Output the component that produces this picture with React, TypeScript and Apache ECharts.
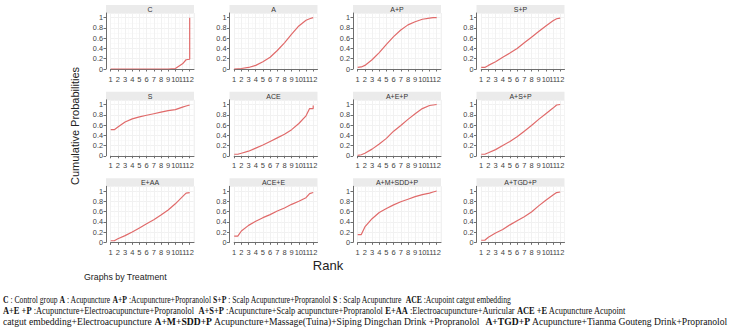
import React, { useEffect, useRef } from "react";
import * as echarts from "echarts";

// Rank positions shared by every panel (the last point repeats rank 12 so a
// curve can finish with a vertical step).
const RANKS = [1, 1.5, 2, 3, 4, 5, 6, 7, 8, 9, 10, 11, 11.5, 12, 12];

const TREATMENTS = [
  "C", "A", "A+P", "S+P",
  "S", "ACE", "A+E+P", "A+S+P",
  "E+AA", "ACE+E", "A+M+SDD+P", "A+TGD+P",
];

const C_VALUES = [0, 0, 0, 0, 0, 0, 0, 0, 0, 0, 0.01, 0.1, 0.18, 0.19, 1];
const A_VALUES = [0, 0.005, 0.01, 0.03, 0.07, 0.14, 0.23, 0.36, 0.51, 0.68, 0.84, 0.95, 0.98, 1, 1];
const AP_VALUES = [0.03, 0.04, 0.07, 0.18, 0.32, 0.48, 0.63, 0.76, 0.86, 0.92, 0.97, 0.99, 1, 1, 1];
const SP_VALUES = [0.03, 0.03, 0.07, 0.14, 0.23, 0.31, 0.4, 0.51, 0.62, 0.73, 0.84, 0.94, 0.98, 0.99, 0.99];
const S_VALUES = [0.51, 0.51, 0.56, 0.66, 0.72, 0.76, 0.79, 0.82, 0.85, 0.88, 0.9, 0.95, 0.97, 0.99, 0.99];
const ACE_VALUES = [0.03, 0.03, 0.05, 0.09, 0.15, 0.21, 0.28, 0.35, 0.42, 0.51, 0.63, 0.78, 0.92, 0.92, 0.98];
const AEP_VALUES = [0.01, 0.02, 0.05, 0.13, 0.23, 0.34, 0.48, 0.59, 0.71, 0.82, 0.92, 0.98, 0.99, 1, 1];
const ASP_VALUES = [0.03, 0.03, 0.06, 0.12, 0.2, 0.28, 0.37, 0.48, 0.59, 0.71, 0.82, 0.93, 0.99, 1, 1];
const EAA_VALUES = [0.03, 0.03, 0.07, 0.13, 0.2, 0.28, 0.36, 0.44, 0.53, 0.63, 0.75, 0.89, 0.96, 0.97, 0.97];
const ACEE_VALUES = [0.12, 0.12, 0.22, 0.33, 0.41, 0.48, 0.54, 0.61, 0.67, 0.74, 0.8, 0.87, 0.95, 0.97, 0.97];
const AMSDDP_VALUES = [0.15, 0.15, 0.3, 0.46, 0.58, 0.66, 0.73, 0.79, 0.84, 0.89, 0.93, 0.96, 0.98, 1, 1];
const ATGDP_VALUES = [0.04, 0.04, 0.1, 0.18, 0.25, 0.34, 0.42, 0.5, 0.59, 0.71, 0.82, 0.92, 0.97, 0.98, 0.98];

const SERIES_VALUES = [
  C_VALUES, A_VALUES, AP_VALUES, SP_VALUES,
  S_VALUES, ACE_VALUES, AEP_VALUES, ASP_VALUES,
  EAA_VALUES, ACEE_VALUES, AMSDDP_VALUES, ATGDP_VALUES,
];

const Y_TITLE = "Cumulative Probabilities";
const X_TITLE = "Rank";
const BY_NOTE = "Graphs by Treatment";

// Caption lines; segments flagged true are set in bold.
const CAPTION_LINES: [string, boolean][][] = [
  [
    ["C", true], [" : Control group ", false], ["A", true], [" : Acupuncture ", false],
    ["A+P", true], [" :Acupuncture+Propranolol ", false], ["S+P", true],
    [" : Scalp Acupuncture+Propranolol ", false], ["S", true], [" : Scalp Acupuncture  ", false],
    ["ACE", true], [" :Acupoint catgut embedding", false],
  ],
  [
    ["A+E +P", true], [" :Acupuncture+Electroacupuncture+Propranolol  ", false],
    ["A+S+P", true], [" :Acupuncture+Scalp acupuncture+Propranolol ", false],
    ["E+AA", true], [" :Electroacupuncture+Auricular ", false], ["ACE +E", true],
    [" Acupuncture Acupoint", false],
  ],
  [
    ["catgut embedding+Electroacupuncture ", false], ["A+M+SDD+P", true],
    [" Acupuncture+Massage(Tuina)+Siping Dingchan Drink +Propranolol  ", false],
    ["A+TGD+P", true], [" Acupuncture+Tianma Gouteng Drink+Propranolol", false],
  ],
];
// Width each caption line is set to, in pixels.
const CAPTION_WIDTHS = [508, 623, 725];
const CAPTION_Y = [300, 311, 321.5];
const CAPTION_SIZE = 9.6;

const SANS = "Liberation Sans, Arial, sans-serif";
const SERIF = "Liberation Serif, Times New Roman, serif";
const LINE_COLOR = "#e06a6a";
const AXIS_COLOR = "#6e6e6e";
const GRID_COLOR = "#f1f1f1";

// Panel layout
const COL_X = [106, 229.5, 353, 476.5];
const ROW_TOP = [17.7, 104.5, 191]; // pixel row of probability 1
const UNIT_X = 79 / 11; // px per rank
const UNIT_Y = 51.3; // px per unit probability
const PAD_L = 4.7;
const PAD_T = 4.7;
const PAD_B = 3;
const STRIP_W = 88;
const X_MAX = 12.6;
const Y_MAX = 1 + PAD_T / UNIT_Y;

function measureLine(segs: [string, boolean][]): number {
  const canvas = document.createElement("canvas");
  const ctx = canvas.getContext("2d");
  if (!ctx) return 700;
  let w = 0;
  segs.forEach(([t, b]) => {
    ctx.font = `${b ? "bold " : ""}${CAPTION_SIZE}px ${SERIF}`;
    w += ctx.measureText(t).width;
  });
  return w;
}

const intOnly = (v: number) => (Math.abs(v - Math.round(v)) < 1e-6 ? String(Math.round(v)) : "");
const probLabel = (v: number) => (v <= 1.0001 ? String(Math.round(v * 10) / 10) : "");

function buildOption() {
  const grids: any[] = [];
  const xAxes: any[] = [];
  const yAxes: any[] = [];
  const series: any[] = [];
  const graphics: any[] = [];

  TREATMENTS.forEach((name, i) => {
    const c = i % 4;
    const r = Math.floor(i / 4);
    const axisX = COL_X[c];
    const y1 = ROW_TOP[r];

    grids.push({
      left: axisX + PAD_L,
      top: y1 - PAD_T,
      width: UNIT_X * (X_MAX - 1),
      height: UNIT_Y * Y_MAX,
    });

    xAxes.push({
      type: "value",
      gridIndex: i,
      min: 1,
      max: X_MAX,
      interval: 1,
      offset: PAD_B,
      axisLine: { show: true, lineStyle: { color: AXIS_COLOR, width: 1 } },
      axisTick: { show: true, length: 2.5, lineStyle: { color: AXIS_COLOR } },
      axisLabel: {
        fontSize: 7.5,
        color: "#444",
        margin: 3,
        fontFamily: SANS,
        formatter: intOnly,
        showMinLabel: true,
        showMaxLabel: false,
      },
      splitLine: { show: true, lineStyle: { color: GRID_COLOR, width: 1 } },
      minorTick: { show: false, splitNumber: 2 },
      minorSplitLine: { show: true, lineStyle: { color: "#f7f7f7", width: 0.6 } },
    });

    yAxes.push({
      type: "value",
      gridIndex: i,
      min: 0,
      max: Y_MAX,
      interval: 0.2,
      offset: PAD_L,
      axisLine: { show: true, lineStyle: { color: AXIS_COLOR, width: 1 } },
      axisTick: { show: true, length: 2.5, lineStyle: { color: AXIS_COLOR } },
      axisLabel: {
        fontSize: 7.3,
        color: "#444",
        margin: 3,
        fontFamily: SANS,
        formatter: probLabel,
        showMaxLabel: false,
      },
      splitLine: { show: true, lineStyle: { color: GRID_COLOR, width: 1 } },
      minorTick: { show: false, splitNumber: 2 },
      minorSplitLine: { show: true, lineStyle: { color: "#f7f7f7", width: 0.6 } },
    });

    series.push({
      type: "line",
      name,
      xAxisIndex: i,
      yAxisIndex: i,
      data: RANKS.map((rk, k) => [rk, SERIES_VALUES[i][k]]),
      showSymbol: false,
      symbol: "none",
      lineStyle: { color: LINE_COLOR, width: 1.2 },
      itemStyle: { color: LINE_COLOR },
    });

    // facet strip with the treatment name
    graphics.push({
      type: "rect",
      shape: { x: axisX, y: y1 - 12.7, width: STRIP_W, height: 8.5 },
      style: { fill: "#ebebeb" },
      silent: true,
    });
    graphics.push({
      type: "text",
      x: axisX + STRIP_W / 2,
      y: y1 - 8.4,
      style: {
        text: name,
        fill: "#333",
        font: `7px ${SANS}`,
        align: "center",
        verticalAlign: "middle",
      },
      silent: true,
    });
  });

  graphics.push({
    type: "text",
    x: 75,
    y: 126,
    rotation: Math.PI / 2,
    style: {
      text: Y_TITLE,
      fill: "#222",
      font: `11px ${SANS}`,
      align: "center",
      verticalAlign: "middle",
    },
  });
  graphics.push({
    type: "text",
    x: 328,
    y: 265,
    style: { text: X_TITLE, fill: "#222", font: `13px ${SANS}`, align: "center", verticalAlign: "middle" },
  });
  graphics.push({
    type: "text",
    x: 84,
    y: 277,
    style: { text: BY_NOTE, fill: "#222", font: `8.8px ${SANS}`, align: "left", verticalAlign: "middle" },
  });

  CAPTION_LINES.forEach((segs, li) => {
    const sx = Math.min(1.1, CAPTION_WIDTHS[li] / measureLine(segs));
    const text = segs.map(([t, b]) => `{${b ? "b" : "n"}|${t.replace(/[{}|]/g, "")}}`).join("");
    graphics.push({
      type: "text",
      x: 3,
      y: CAPTION_Y[li],
      scaleX: sx,
      style: {
        text,
        align: "left",
        verticalAlign: "middle",
        rich: {
          n: { fontFamily: SERIF, fontSize: CAPTION_SIZE, fill: "#111", fontWeight: "normal" },
          b: { fontFamily: SERIF, fontSize: CAPTION_SIZE, fill: "#111", fontWeight: "bold" },
        },
      },
    });
  });

  return {
    animation: false,
    backgroundColor: "#ffffff",
    grid: grids,
    xAxis: xAxes,
    yAxis: yAxes,
    series,
    graphic: graphics,
  };
}

export default function App() {
  const ref = useRef<HTMLDivElement>(null);

  useEffect(() => {
    document.body.style.margin = "0";
    if (!ref.current) return;
    const chart = echarts.init(ref.current, undefined, { renderer: "svg" });
    chart.setOption(buildOption());
    return () => chart.dispose();
  }, []);

  return <div ref={ref} style={{ width: 735, height: 335 }} />;
}
